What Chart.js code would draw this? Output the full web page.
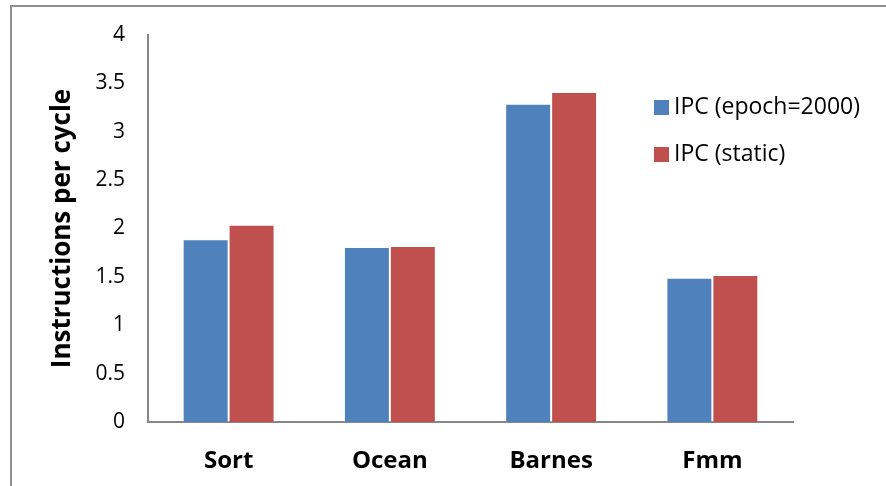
<!DOCTYPE html>
<html>
<head>
<meta charset="utf-8">
<script src="https://cdn.jsdelivr.net/npm/chart.js@4/dist/chart.umd.min.js"></script>
<style>
  html, body { margin: 0; padding: 0; background: #fff; overflow: hidden; }
  #frame { position: absolute; left: 10px; top: 5px; width: 900px; height: 500px;
           border-left: 2px solid #8f8f8f; border-top: 2px solid #8f8f8f; }
  #wrap { position: absolute; left: 0; top: 0; width: 886px; height: 486px; }
</style>
</head>
<body>
<div id="frame"></div>
<div id="wrap"><canvas id="c"></canvas></div>
<script>
// Benchmarks and their measured IPC
const categories = ['Sort', 'Ocean', 'Barnes', 'Fmm'];
const ipcEpoch  = [1.89, 1.81, 3.29, 1.49];
const ipcStatic = [2.04, 1.82, 3.41, 1.52];
const seriesNames = ['IPC (epoch=2000)', 'IPC (static)'];
const yMin = 0, yMax = 4, yStep = 0.5;

const FONT = '"Open Sans", sans-serif';

// Legend drawn beside the bars, stacked vertically
const sideLegend = {
  id: 'sideLegend',
  afterDraw(chart) {
    const ctx = chart.ctx;
    ctx.save();
    ctx.font = '23px ' + FONT;
    ctx.textBaseline = 'middle';
    chart.data.datasets.forEach((ds, i) => {
      const y = 107 + i * 47;
      ctx.fillStyle = ds.backgroundColor;
      ctx.fillRect(654, y - 7, 15, 15);
      ctx.fillStyle = '#000';
      ctx.fillText(ds.label, 674, y);
    });
    ctx.restore();
  }
};

new Chart(document.getElementById('c'), {
  type: 'bar',
  data: {
    labels: categories,
    datasets: [
      { label: seriesNames[0], data: ipcEpoch, backgroundColor: '#4F81BD',
        borderColor: 'rgba(255,255,255,0.35)', borderWidth: 1 },
      { label: seriesNames[1], data: ipcStatic, backgroundColor: '#C0504D',
        borderColor: 'rgba(255,255,255,0.35)', borderWidth: 1 }
    ]
  },
  options: {
    responsive: true,
    maintainAspectRatio: false,
    animation: false,
    layout: { padding: { left: 0, right: 93, top: 35, bottom: 0 } },
    datasets: { bar: { categoryPercentage: 0.57, barPercentage: 1.0 } },
    plugins: {
      legend: { display: false },
      tooltip: { enabled: false }
    },
    scales: {
      x: {
        grid: { display: false },
        border: { display: true, color: '#868686', width: 2 },
        ticks: { color: '#000', font: { family: FONT, size: 24, weight: 'bold' }, padding: 17 },
        afterFit: s => { s.height = 64; }
      },
      y: {
        min: yMin, max: yMax,
        grid: { display: false },
        border: { display: true, color: '#868686', width: 2 },
        ticks: { stepSize: yStep, color: '#000', font: { family: FONT, size: 21 }, padding: 15,
                 callback: v => String(v) },
        title: { display: true, text: 'Instructions per cycle', color: '#000',
                 font: { family: FONT, size: 26, weight: 'bold' }, padding: { top: 47, bottom: 0 } },
        afterFit: s => { s.width = 148; }
      }
    }
  },
  plugins: [sideLegend]
});
</script>
</body>
</html>
